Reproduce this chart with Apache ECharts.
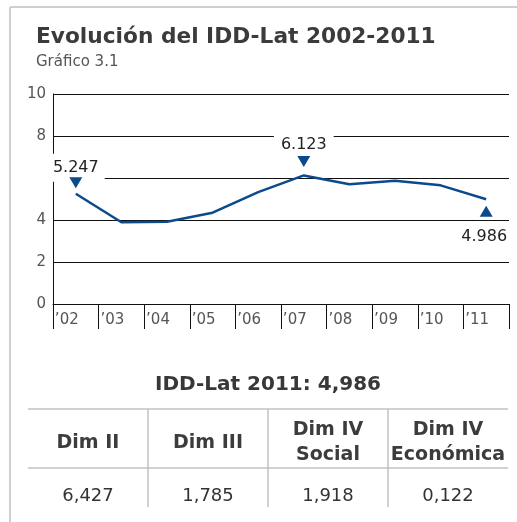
<!DOCTYPE html>
<html>
<head>
<meta charset="utf-8">
<script src="https://cdn.jsdelivr.net/npm/echarts@6/dist/echarts.min.js"></script>
<style>
  html, body { margin: 0; padding: 0; background: #fff; }
  #chart { width: 517px; height: 522px; }
</style>
</head>
<body>
<div id="chart"></div>
<script>
// data
const years = ['’02', '’03', '’04', '’05', '’06', '’07', '’08', '’09', '’10', '’11']
const idd = [5.247, 3.89, 3.92, 4.35, 5.33, 6.123, 5.70, 5.87, 5.65, 4.986]
const yTicks = [0, 2, 4, 6, 8, 10]
const markIdx = [0, 5, 9]
const tableTitle = 'IDD-Lat 2011: 4,986'
const dimNames = ['Dim II', 'Dim III', 'Dim IV\nSocial', 'Dim IV\nEconómica']
const dimValues = ['6,427', '1,785', '1,918', '0,122']

const FONT = 'DejaVu Sans'
const BLUE = '#0b4a8b'

// per-marker placement (arrow above or below the point)
const markStyle = [
  { dir: 'down', symOff: -11, lblOff: [0, -26], pad: [7, 6, 5, 6] },
  { dir: 'down', symOff: -14, lblOff: [0, -31], pad: [6, 7, 4, 7] },
  { dir: 'up', symOff: 12, lblOff: [-2, 38], pad: [10, 5, 6, 5] },
]
const DOWN = 'path://M0,0L10,0L5,9Z'
const UP = 'path://M5,0L10,9L0,9Z'

// table layout
const TBL_LEFT = 28
const COL_W = 120
const TBL_TOP = 409
const HEAD_BOTTOM = 468
const TBL_BOTTOM = 507
const LINE_COL = '#c2c2c2'

function tableGraphics() {
  const els = []
  const right = TBL_LEFT + COL_W * dimNames.length
  els.push({ type: 'text', x: (TBL_LEFT + right) / 2, y: 385,
    style: { text: tableTitle, font: 'bold 20px ' + FONT, fill: '#383838', align: 'center', verticalAlign: 'middle' } })
  els.push({ type: 'line', shape: { x1: TBL_LEFT, y1: TBL_TOP, x2: right, y2: TBL_TOP }, style: { stroke: LINE_COL, lineWidth: 1.5 } })
  els.push({ type: 'line', shape: { x1: TBL_LEFT, y1: HEAD_BOTTOM, x2: right, y2: HEAD_BOTTOM }, style: { stroke: LINE_COL, lineWidth: 1.5 } })
  dimNames.forEach((name, i) => {
    const cx = TBL_LEFT + COL_W * (i + 0.5)
    if (i > 0) {
      const x = TBL_LEFT + COL_W * i
      els.push({ type: 'line', shape: { x1: x, y1: TBL_TOP, x2: x, y2: TBL_BOTTOM }, style: { stroke: LINE_COL, lineWidth: 1.5 } })
    }
    els.push({ type: 'text', x: cx, y: 443,
      style: { text: name, font: 'bold 19px ' + FONT, lineHeight: 25, fill: '#3c3c3c', align: 'center', verticalAlign: 'middle' } })
    els.push({ type: 'text', x: cx, y: 496,
      style: { text: dimValues[i], font: '18px ' + FONT, fill: '#333', align: 'center', verticalAlign: 'middle' } })
  })
  return els
}

const chart = echarts.init(document.getElementById('chart'))

chart.setOption({
  animation: false,
  textStyle: { fontFamily: FONT },
  title: {
    text: 'Evolución del IDD-Lat 2002-2011',
    subtext: 'Gráfico 3.1',
    left: 31,
    top: 19,
    itemGap: 3,
    textStyle: { fontSize: 21.7, fontWeight: 'bold', color: '#3b3b3b', lineHeight: 26 },
    subtextStyle: { fontSize: 15, color: '#555', lineHeight: 18 },
  },
  grid: { left: 53, right: 8, top: 94, bottom: 218 },
  xAxis: {
    type: 'category',
    data: years,
    boundaryGap: true,
    axisLine: { lineStyle: { color: '#111', width: 1 } },
    axisTick: { show: true, interval: 0, length: 25, lineStyle: { color: '#111', width: 1 } },
    axisLabel: { interval: 0, fontSize: 15, color: '#555', margin: 9, padding: [0, 18, 0, 0] },
    splitLine: { show: false },
  },
  yAxis: {
    type: 'value',
    min: yTicks[0],
    max: yTicks[yTicks.length - 1],
    interval: 2,
    axisLine: { show: true, lineStyle: { color: '#111', width: 1 } },
    axisTick: { show: false },
    axisLabel: { fontSize: 15, color: '#555', margin: 7, formatter: (v) => (v === 6 ? '' : String(v)) },
    splitLine: { lineStyle: { color: '#111', width: 1 } },
  },
  series: [
    {
      type: 'line',
      data: idd,
      showSymbol: false,
      z: 3,
      lineStyle: { color: BLUE, width: 2.5 },
      itemStyle: { color: BLUE },
      markPoint: {
        z: 5,
        symbol: 'circle',
        symbolSize: 1,
        itemStyle: { color: 'rgba(0,0,0,0)' },
        label: { show: true, position: 'inside', fontSize: 16, color: '#222', backgroundColor: '#fff' },
        data: markIdx.map((i, k) => ({
          coord: [years[i], idd[i]],
          value: idd[i],
          label: { formatter: idd[i].toFixed(3), offset: markStyle[k].lblOff, padding: markStyle[k].pad },
        })),
      },
    },
    {
      type: 'line',
      data: idd,
      showSymbol: false,
      silent: true,
      lineStyle: { opacity: 0 },
      markPoint: {
        z: 6,
        symbolSize: [13, 11],
        itemStyle: { color: BLUE },
        label: { show: false },
        data: markIdx.map((i, k) => ({
          coord: [years[i], idd[i]],
          symbol: markStyle[k].dir === 'down' ? DOWN : UP,
          symbolOffset: [0, markStyle[k].symOff],
        })),
      },
    },
  ],
  graphic: [
    { type: 'line', shape: { x1: 10, y1: 7, x2: 517, y2: 7 }, style: { stroke: '#cfcfcf', lineWidth: 2 } },
    { type: 'line', shape: { x1: 10, y1: 7, x2: 10, y2: 522 }, style: { stroke: '#cfcfcf', lineWidth: 2 } },
    ...tableGraphics(),
  ],
})
</script>
</body>
</html>
